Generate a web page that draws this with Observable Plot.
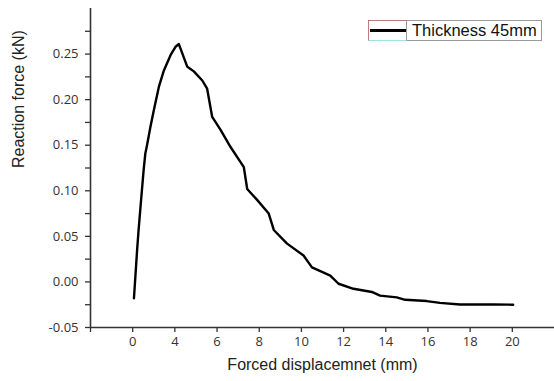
<!DOCTYPE html>
<html>
<head>
<meta charset="utf-8">
<script src="https://cdn.jsdelivr.net/npm/d3@7"></script>
<script src="https://cdn.jsdelivr.net/npm/@observablehq/plot@0.6"></script>
<style>
  html, body { margin: 0; padding: 0; background: #fff; }
  #wrap { position: relative; width: 554px; height: 381px; overflow: hidden; }
  #legend { position: absolute; left: 368px; top: 20px; width: 174px; height: 21px;
    border: 1px solid #9a9a9a; border-left: none; box-sizing: border-box; background: #fff;
    font-family: "Liberation Sans", Arial, sans-serif; font-size: 16.5px; color: #111; }
  #legend .swatch { position: absolute; left: 0; top: -1px; width: 39px; height: 21px;
    border-top: 1px solid #c07a7a; border-left: 1px solid #c07a7a; border-right: 1px solid #9a9a9a;
    border-bottom: 1px solid #9fe3e8; box-sizing: border-box; }
  #legend .swatch::after { content: ""; position: absolute; left: 1px; right: 0; top: 8px; height: 3px; background: #000; }
  #legend .lbl { position: absolute; left: 44px; top: 0px; line-height: 19px; white-space: nowrap; }
</style>
</head>
<body>
<div id="wrap"></div>
<script>
// Curve (x in axis position units, y in kN)
const dispX = [2.06, 2.21, 2.28, 2.41, 2.52, 2.60, 2.68, 2.84, 3.00, 3.24, 3.48, 3.80, 4.03, 4.19,
  4.59, 4.90, 5.30, 5.53, 5.77, 6.16, 6.64, 7.27, 7.43, 7.90, 8.45, 8.69, 9.32, 10.10, 10.50,
  11.37, 11.76, 12.47, 13.34, 13.73, 14.52, 14.92, 15.94, 16.57, 17.52, 19.09, 20.04];
const forceY = [-0.018, 0.035, 0.057, 0.093, 0.123, 0.141, 0.150, 0.170, 0.188, 0.214, 0.232, 0.249, 0.258, 0.261,
  0.236, 0.231, 0.221, 0.212, 0.181, 0.167, 0.148, 0.126, 0.102, 0.090, 0.075, 0.057, 0.042, 0.029, 0.016,
  0.007, -0.002, -0.0075, -0.011, -0.015, -0.017, -0.0196, -0.021, -0.023, -0.0247, -0.0247, -0.025];

const xTickValues = [0, 2, 4, 6, 8, 10, 12, 14, 16, 18, 20];
const xTickLabels = ["", "0", "4", "6", "8", "10", "12", "14", "16", "18", "20"];
const yTickValues = [-0.05, 0.00, 0.05, 0.10, 0.15, 0.20, 0.25];
const yMinorTicks = [-0.025, 0.025, 0.075, 0.125, 0.175, 0.225, 0.275];

const seriesName = "Thickness 45mm";
const xTitle = "Forced displacemnet (mm)";
const yTitle = "Reaction force (kN)";

const data = dispX.map((x, i) => ({x, y: forceY[i]}));
const xLabelMap = new Map(xTickValues.map((v, i) => [v, xTickLabels[i]]));

const tickFont = "'Open Sans', 'DejaVu Sans', sans-serif";
const titleFont = "'Liberation Sans', Arial, sans-serif";

const chart = Plot.plot({
  width: 554,
  height: 381,
  marginLeft: 90,
  marginRight: 0,
  marginTop: 8,
  marginBottom: 54,
  style: {background: "#fff", fontFamily: tickFont, fontSize: "13px", color: "#333"},
  x: {domain: [0, 22], axis: null},
  y: {domain: [-0.05, 0.30], axis: null},
  marks: [
    Plot.ruleY([-0.05], {stroke: "#333", strokeWidth: 1.6}),
    Plot.ruleX([0], {stroke: "#333", strokeWidth: 1.6}),
    Plot.axisY({ticks: yMinorTicks, tickSize: 5, tickFormat: () => "", stroke: "#333", strokeWidth: 1.3, label: null}),
    Plot.axisY({ticks: yTickValues, tickSize: 5, tickPadding: 7, tickFormat: d => d.toFixed(2),
      stroke: "#333", strokeWidth: 1.3, fontSize: 13, fill: "#333", label: null}),
    Plot.axisX({ticks: xTickValues, tickSize: 5, tickPadding: 4, tickFormat: d => xLabelMap.get(d),
      stroke: "#333", strokeWidth: 1.3, fontSize: 13, fill: "#333", label: null}),
    Plot.line(data, {x: "x", y: "y", stroke: "#000", strokeWidth: 2.4, strokeLinejoin: "round", curve: "linear"}),
    Plot.text([xTitle], {frameAnchor: "bottom", dy: 42, fontFamily: titleFont, fontSize: 16, fill: "#222"}),
    Plot.text([yTitle], {frameAnchor: "left", dx: -72, rotate: -90, fontFamily: titleFont, fontSize: 16, fill: "#222"})
  ]
});

const wrap = document.getElementById("wrap");
wrap.appendChild(chart);
const legend = document.createElement("div");
legend.id = "legend";
legend.innerHTML = '<div class="swatch"></div><div class="lbl"></div>';
legend.querySelector(".lbl").textContent = seriesName;
wrap.appendChild(legend);
</script>
</body>
</html>
